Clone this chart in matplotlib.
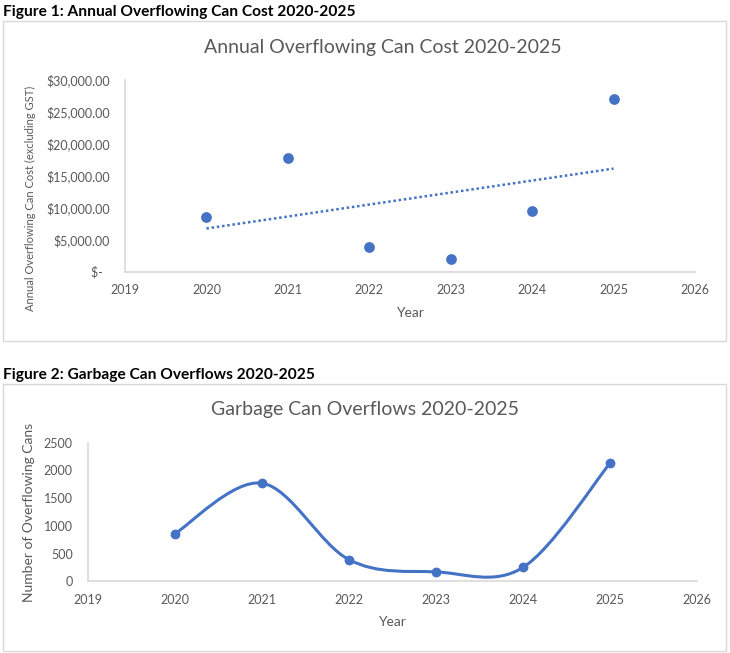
import numpy as np
import matplotlib
matplotlib.use("Agg")
import matplotlib.pyplot as plt
from matplotlib.path import Path
from matplotlib.patches import PathPatch, Rectangle
from matplotlib.ticker import FuncFormatter

plt.rcParams['font.family'] = ['Lato', 'DejaVu Sans']

years = [2020, 2021, 2022, 2023, 2024, 2025]
cost = [8560, 17750, 3870, 2030, 9450, 27030]
overflows = [860, 1770, 390, 170, 250, 2130]
cost_ticks = [0, 5000, 10000, 15000, 20000, 25000, 30000]
count_ticks = [0, 500, 1000, 1500, 2000, 2500]
x_ticks = [2019, 2020, 2021, 2022, 2023, 2024, 2025, 2026]

BLUE = '#4472C4'
GRAY = '#595959'
SPINE = '#D9D9D9'

W, H = 730, 653
fig = plt.figure(figsize=(W / 100, H / 100), dpi=100)

def fx(px):
    return px / W

def fy(py):
    return 1 - py / H

# Chart boxes
for (x0, y0, x1, y1) in [(3, 21, 726, 341), (3, 384, 726, 651)]:
    fig.patches.append(Rectangle((fx(x0), fy(y1)), fx(x1) - fx(x0), fy(y0) - fy(y1),
                                 transform=fig.transFigure, fill=False,
                                 edgecolor='#D9D9D9', linewidth=1.0))

fig.text(fx(3), fy(12), 'Figure 1: Annual Overflowing Can Cost 2020-2025',
         fontsize=11.2, fontweight='bold', ha='left', va='center')
fig.text(fx(3), fy(375), 'Figure 2: Garbage Can Overflows 2020-2025',
         fontsize=11.2, fontweight='bold', ha='left', va='center')

def style(ax):
    for s in ['top', 'right']:
        ax.spines[s].set_visible(False)
    for s in ['left', 'bottom']:
        ax.spines[s].set_color(SPINE)
        ax.spines[s].set_linewidth(1.2)
    ax.tick_params(length=0, labelsize=9, labelcolor=GRAY)
    ax.set_xlim(2019, 2026)
    ax.set_xticks(x_ticks)

# ---- Chart 1
ax1 = fig.add_axes([fx(125), fy(271.7), fx(695) - fx(125), fy(80) - fy(271.7)])
style(ax1)
ax1.set_ylim(0, 30000)
ax1.set_yticks(cost_ticks)
ax1.yaxis.set_major_formatter(FuncFormatter(lambda v, p: '$-  ' if v == 0 else f'${v:,.2f}'))
ax1.tick_params(axis='y', pad=11)
ax1.tick_params(axis='x', pad=9)
ax1.scatter(years, cost, s=60, color=BLUE, zorder=3, linewidths=0)
coef = np.polyfit(years, cost, 1)
tx = np.array([years[0], years[-1]])
ax1.plot(tx, np.polyval(coef, tx), linestyle=(0, (1, 1.1)), color=BLUE, linewidth=1.8)
fig.text(fx(383), fy(48), 'Annual Overflowing Can Cost 2020-2025', fontsize=14,
         color=GRAY, ha='center', va='center')
fig.text(fx(410), fy(313), 'Year', fontsize=10, color=GRAY, ha='center', va='center')
fig.text(fx(30), fy(198), 'Annual Overflowing Can Cost (excluding GST)', fontsize=8,
         color=GRAY, ha='center', va='center', rotation=90)

# ---- Chart 2
ax2 = fig.add_axes([fx(88), fy(581.3), fx(697) - fx(88), fy(442.7) - fy(581.3)])
style(ax2)
ax2.set_ylim(0, 2500)
ax2.set_yticks(count_ticks)
ax2.tick_params(axis='y', pad=11)
ax2.tick_params(axis='x', pad=9)

# Smoothed line (Catmull-Rom style Bezier like Excel)
xs = np.array(years, dtype=float)
ys = np.array(overflows, dtype=float)
n = len(xs)
verts = [(xs[0], ys[0])]
codes = [Path.MOVETO]
for i in range(n - 1):
    p0 = np.array([xs[max(i - 1, 0)], ys[max(i - 1, 0)]])
    p1 = np.array([xs[i], ys[i]])
    p2 = np.array([xs[i + 1], ys[i + 1]])
    p3 = np.array([xs[min(i + 2, n - 1)], ys[min(i + 2, n - 1)]])
    c1 = p1 + (p2 - p0) / 6
    c2 = p2 - (p3 - p1) / 6
    verts += [tuple(c1), tuple(c2), tuple(p2)]
    codes += [Path.CURVE4] * 3
ax2.add_patch(PathPatch(Path(verts, codes), fill=False, edgecolor=BLUE, linewidth=2.2, zorder=2))
ax2.scatter(years, overflows, s=50, color=BLUE, zorder=3, linewidths=0)
fig.text(fx(365), fy(410), 'Garbage Can Overflows 2020-2025', fontsize=14,
         color=GRAY, ha='center', va='center')
fig.text(fx(392), fy(622), 'Year', fontsize=10, color=GRAY, ha='center', va='center')
fig.text(fx(29), fy(512), 'Number of Overflowing Cans', fontsize=10,
         color=GRAY, ha='center', va='center', rotation=90)

fig.savefig('out.png', dpi=100)
